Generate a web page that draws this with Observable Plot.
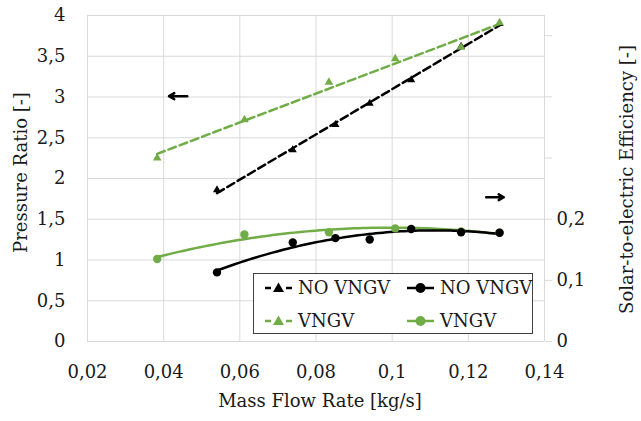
<!DOCTYPE html>
<html><head><meta charset="utf-8">
<script src="https://cdn.jsdelivr.net/npm/d3@7"></script>
<script src="https://cdn.jsdelivr.net/npm/@observablehq/plot@0.6"></script>
<style>
body{margin:0;background:#fff;}
#wrap{position:relative;width:641px;height:421px;}
#legend{position:absolute;left:253px;top:273px;width:280px;height:61px;box-sizing:border-box;border:1px solid #404040;background:#fff;}
.item{position:absolute;display:flex;align-items:center;color:#1a1a1a;line-height:1;white-space:nowrap;}
.item svg{margin-right:6px;display:block}
</style></head><body><div id="wrap"></div>
<script>
// ---- data ----
const massFlowNoVngv = [0.054, 0.0739, 0.0851, 0.0941, 0.105, 0.1181, 0.1282];
const prNoVngv       = [1.86, 2.35, 2.66, 2.92, 3.21, 3.62, 3.90];
const effNoVngv      = [0.113, 0.162, 0.169, 0.1667, 0.184, 0.1787, 0.1777];
const massFlowVngv   = [0.0383, 0.0612, 0.0834, 0.1008, 0.1181, 0.1282];
const prVngv         = [2.25, 2.72, 3.18, 3.47, 3.61, 3.91];
const effVngv        = [0.135, 0.175, 0.1787, 0.185, 0.180, 0.178];
const xTicks   = [0.02, 0.04, 0.06, 0.08, 0.1, 0.12, 0.14];
const yTicks   = [0, 0.5, 1, 1.5, 2, 2.5, 3, 3.5, 4];
const effTicks = [0, 0.1, 0.2, 0.3, 0.4, 0.5];
const effTickLabels = ["0", "0,1", "0,2", "", "", ""];
const seriesNames = ["NO VNGV", "VNGV"];
const seriesColors = ["#000000", "#70ad47"];
const arrowNotes = [
  {x1: 0.0462, x2: 0.0414, y: 3.01},
  {x1: 0.1247, x2: 0.1293, y: 1.77}
];
const effMax = 0.533;   // secondary axis top
const prMax = 4;

// pick an installed serif face (measuring also makes sure the face is loaded)
function hasFont(f) {
  const c = document.createElement("canvas").getContext("2d");
  const s = "Mass Flow Rate 0,123 VNGV wmli";
  c.font = "40px monospace"; const w0 = c.measureText(s).width;
  c.font = `40px "${f}", monospace`; const w1 = c.measureText(s).width;
  return Math.abs(w0 - w1) > 0.5;
}
const candidates = ["DejaVu Serif", "Liberation Serif", "Noto Serif"];
const pick = candidates.find(f => hasFont(f)) || "serif";
const FONT = `"${pick}", serif`;
const FS = pick === "DejaVu Serif" ? 18 : 20;

const k = prMax / effMax;
const noV = massFlowNoVngv.map((x, i) => ({x, pr: prNoVngv[i], eff: effNoVngv[i] * k}));
const v = massFlowVngv.map((x, i) => ({x, pr: prVngv[i], eff: effVngv[i] * k}));

// quadratic least-squares trendline (like the spreadsheet's polynomial trendline)
function polyTrend(data) {
  const mx = d3.mean(data, d => d.x);
  let S = [0,0,0,0,0], T = [0,0,0];
  for (const d of data) {
    const u = d.x - mx;
    for (let p = 0; p < 5; p++) S[p] += Math.pow(u, p);
    for (let p = 0; p < 3; p++) T[p] += Math.pow(u, p) * d.eff;
  }
  const A = [[S[0],S[1],S[2]],[S[1],S[2],S[3]],[S[2],S[3],S[4]]];
  const det = m => m[0][0]*(m[1][1]*m[2][2]-m[1][2]*m[2][1]) - m[0][1]*(m[1][0]*m[2][2]-m[1][2]*m[2][0]) + m[0][2]*(m[1][0]*m[2][1]-m[1][1]*m[2][0]);
  const D = det(A);
  const c = [0,1,2].map(j => det(A.map((row, r) => row.map((val, col) => col === j ? T[r] : val))) / D);
  const x0 = d3.min(data, d => d.x), x1 = d3.max(data, d => d.x);
  return d3.range(81).map(i => {
    const x = x0 + (x1 - x0) * i / 80, u = x - mx;
    return {x, eff: c[0] + c[1]*u + c[2]*u*u};
  });
}
const trendNoV = polyTrend(noV);
const trendV = polyTrend(v);

const comma = d => String(d).replace(".", ",");
const ink = "#1a1a1a", gridC = "#d9d9d9";

const chart = Plot.plot({
  width: 641, height: 421,
  marginLeft: 87, marginRight: 97, marginTop: 15, marginBottom: 80,
  style: {fontFamily: FONT, fontSize: FS + "px", color: ink, background: "#fff"},
  x: {domain: [0.02, 0.14]},
  y: {domain: [0, prMax]},
  marks: [
    Plot.gridX(xTicks, {stroke: gridC, strokeOpacity: 1}),
    Plot.gridY(yTicks, {stroke: gridC, strokeOpacity: 1}),
    Plot.axisX(xTicks, {tickSize: 0, tickPadding: 24, tickFormat: comma, label: null, fill: ink, fontFamily: FONT, fontSize: FS}),
    Plot.axisY(yTicks, {anchor: "left", tickSize: 0, tickPadding: 22, tickFormat: comma, label: null, fill: ink, fontFamily: FONT, fontSize: FS}),
    Plot.axisY(effTicks.map(e => e * k), {anchor: "right", tickSize: 7, tickPadding: 5, stroke: gridC, strokeOpacity: 1, fill: ink, label: null, fontFamily: FONT, fontSize: FS,
      tickFormat: val => effTickLabels[effTicks.findIndex(e => Math.abs(e * k - val) < 1e-6)]}),
    // efficiency trendlines + markers
    Plot.line(trendV, {x: "x", y: "eff", stroke: seriesColors[1], strokeWidth: 2.5}),
    Plot.line(trendNoV, {x: "x", y: "eff", stroke: seriesColors[0], strokeWidth: 2.5}),
    Plot.dot(v, {x: "x", y: "eff", r: 4.2, fill: seriesColors[1], stroke: "none"}),
    Plot.dot(noV, {x: "x", y: "eff", r: 4.2, fill: seriesColors[0], stroke: "none"}),
    // pressure ratio linear trendlines + markers
    Plot.dot(noV, {x: "x", y: "pr", r: 3, symbol: "triangle", fill: seriesColors[0], stroke: "none"}),
    Plot.linearRegressionY(noV, {x: "x", y: "pr", ci: 0, stroke: seriesColors[0], strokeWidth: 2.5, strokeDasharray: "8,4"}),
    Plot.linearRegressionY(v, {x: "x", y: "pr", ci: 0, stroke: seriesColors[1], strokeWidth: 2.5, strokeDasharray: "8,4"}),
    Plot.dot(v, {x: "x", y: "pr", r: 3.2, symbol: "triangle", fill: seriesColors[1], stroke: "none"}),
    // axis-pointer arrows
    Plot.arrow(arrowNotes, {x1: "x1", x2: "x2", y1: "y", y2: "y", stroke: "#000", strokeWidth: 2.5, headLength: 7}),
    // axis titles
    Plot.text(["Mass Flow Rate [kg/s]"], {frameAnchor: "bottom", textAnchor: "middle", dx: 4, dy: 65, fontSize: FS, fontFamily: FONT, fill: ink}),
    Plot.text(["Pressure Ratio [-]"], {frameAnchor: "left", textAnchor: "middle", rotate: -90, dx: -66, dy: -6, fontSize: FS, fontFamily: FONT, fill: ink}),
    Plot.text(["Solar-to-electric Efficiency [-]"], {frameAnchor: "right", textAnchor: "middle", rotate: -90, dx: 83, dy: 1, fontSize: FS, fontFamily: FONT, fill: ink})
  ]
});
const wrap = document.getElementById("wrap");
wrap.appendChild(chart);

// legend
const legend = document.createElement("div");
legend.id = "legend";
const items = [
  {col: 0, row: 0, s: 0, kind: "tri"}, {col: 1, row: 0, s: 0, kind: "dot"},
  {col: 0, row: 1, s: 1, kind: "tri"}, {col: 1, row: 1, s: 1, kind: "dot"}
];
for (const it of items) {
  const c = seriesColors[it.s];
  const el = document.createElement("div");
  el.className = "item";
  el.style.fontFamily = FONT;
  el.style.fontSize = FS + "px";
  el.style.left = (it.col === 0 ? 11 : 153) + "px";
  el.style.top = (it.row === 0 ? 4 : 37) + "px";
  el.style.height = "20px";
  const sym = it.kind === "tri"
    ? `<svg width="27" height="16"><line x1="0" x2="27" y1="8" y2="8" stroke="${c}" stroke-width="2.5" stroke-dasharray="6,15,6"/><path d="M13.5,2.5 L19,12 L8,12 Z" fill="${c}"/></svg>`
    : `<svg width="27" height="16"><line x1="0" x2="27" y1="8" y2="8" stroke="${c}" stroke-width="2.5"/><circle cx="13.5" cy="8" r="5" fill="${c}"/></svg>`;
  el.innerHTML = sym + `<span>${seriesNames[it.s]}</span>`;
  legend.appendChild(el);
}
wrap.appendChild(legend);
</script>
</body></html>
